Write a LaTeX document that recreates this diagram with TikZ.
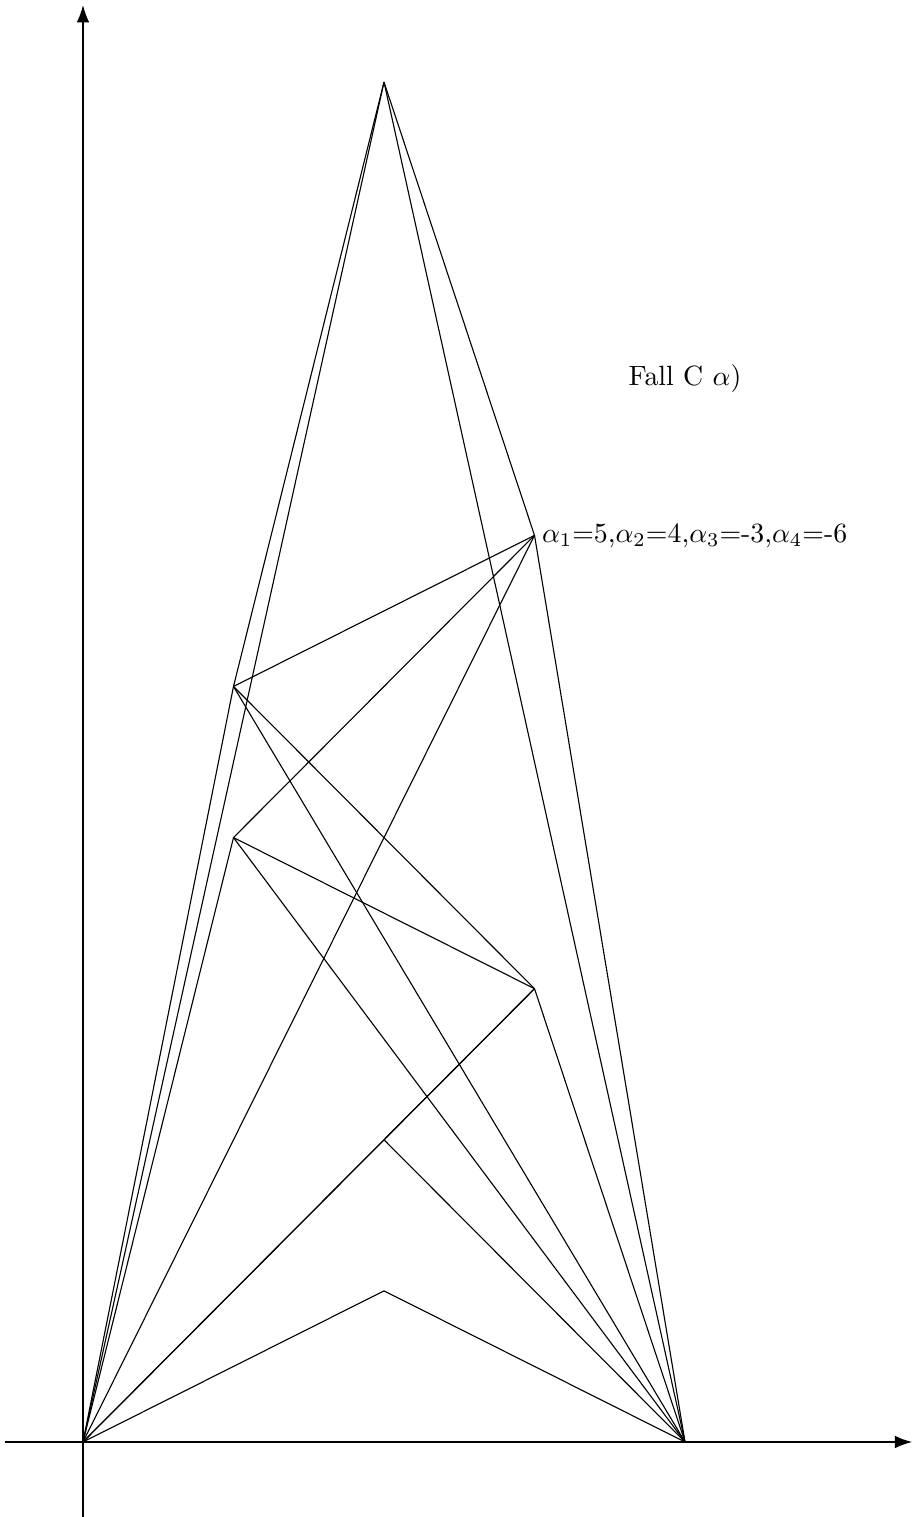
\documentclass[tikz,border=0pt]{standalone}
\usepackage{amsmath}
\usetikzlibrary{arrows.meta}

\begin{document}
\begin{tikzpicture}[x=1.9cm, y=1.9076cm, >={Latex[length=2.2mm, width=1.6mm]},
          axis/.style={semithick, ->},
          edge/.style={thin, black}]
        \useasboundingbox (-0.5515,-0.4964) rectangle (5.515,9.543);
        \draw[axis] (-0.52,0) -- (5.51,0);
        \draw[axis] (0,-0.4964) -- (0,9.51);
        \coordinate (o) at (0,0);
        \coordinate (e) at (4,0);
        \coordinate (top) at (2,9);
        \coordinate (r6) at (3,6);
        \coordinate (l5) at (1,5);
        \coordinate (l4) at (1,4);
        \coordinate (r3) at (3,3);
        \coordinate (m2) at (2,2);
        \coordinate (m1) at (2,1);
        \foreach \a/\b in {o/l5, l5/top, o/top, o/l4, top/r6, top/e, r6/e,
                           l5/r6, l4/r6, o/r6, l5/r3, l5/e, l4/r3, l4/e,
                           o/m2, m2/r3, o/r3, m2/e, r3/e, o/m1, m1/e} { \draw[edge] (\a) -- (\b); }
        \node[right, inner sep=2.5pt] (lbl) at (r6) {$\alpha_1$=5,$\alpha_2$=4,$\alpha_3$=-3,$\alpha_4$=-6};
        \node (fall) at (4,7.04) {Fall C $\alpha$)};
      \end{tikzpicture}
\end{document}
